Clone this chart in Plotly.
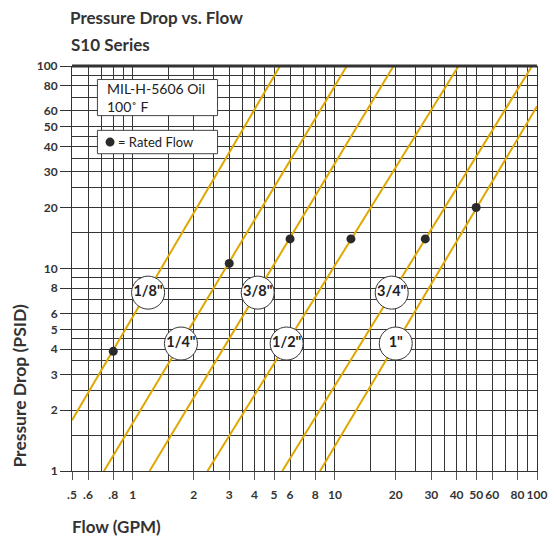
import plotly.graph_objects as go

# ---- data ----
sizes = ['1/8"', '1/4"', '3/8"', '1/2"', '3/4"', '1"']
flow_lo = [0.5, 0.72, 1.21, 2.34, 5.49, 8.44]
dp_lo = [1.78, 1.0, 1.0, 1.0, 1.0, 1.0]
flow_hi = [5.35, 11.45, 19.5, 40.9, 94.5, 100.0]
dp_hi = [100.0, 100.0, 100.0, 100.0, 100.0, 63.2]

rated_flow = [0.8, 3.0, 6.0, 12.0, 28.0, 50.0]
rated_dp = [3.9, 10.6, 14.0, 14.0, 14.0, 20.0]

label_flow = [1.19, 1.73, 4.15, 5.77, 19.1, 20.0]
label_dp = [7.6, 4.26, 7.6, 4.26, 7.6, 4.26]

x_major = [0.5, 0.6, 0.8, 1, 2, 3, 4, 5, 6, 8, 10, 20, 30, 40, 50, 60, 80, 100]
x_major_text = [".5", ".6", ".8", "1", "2", "3", "4", "5", "6", "8", "10",
                "20", "30", "40", "50", "60", "80", "100"]
x_minor = [0.7, 0.9, 1.5, 2.5, 3.5, 4.5, 7, 9, 15, 25, 35, 45, 70, 90]
y_major = [1, 2, 3, 4, 5, 6, 8, 10, 20, 30, 40, 50, 60, 80, 100]
y_major_text = ["1", "2", "3", "4", "5", "6", "8", "10", "20", "30", "40",
                "50", "60", "80", "100"]
y_minor = [1.5, 2.5, 3.5, 4.5, 7, 9, 15, 25, 35, 45, 70, 90]

# ---- styling ----
FONT = "Lato"
TXT = "#333333"
GRID = "#363636"
GOLD = "#DFA700"

fig = go.Figure()

for i, s in enumerate(sizes):
    fig.add_trace(go.Scatter(
        x=[flow_lo[i], flow_hi[i]], y=[dp_lo[i], dp_hi[i]],
        mode="lines", line=dict(color=GOLD, width=2),
        showlegend=False, hoverinfo="skip", cliponaxis=True))

fig.add_trace(go.Scatter(
    x=rated_flow, y=rated_dp, mode="markers",
    marker=dict(color="#2a2a2a", size=9),
    showlegend=False, hoverinfo="skip"))

fig.add_trace(go.Scatter(
    x=label_flow, y=label_dp, mode="markers+text", text=sizes,
    textposition="middle center",
    textfont=dict(family=FONT, size=14.5, color="#222222", weight="bold"),
    marker=dict(color="white", size=33, line=dict(color="#333333", width=1)),
    showlegend=False, hoverinfo="skip", cliponaxis=False))

fig.update_xaxes(
    type="log", range=[-0.30103, 2],
    tickmode="array", tickvals=x_major, ticktext=x_major_text,
    ticks="outside", ticklen=8, tickcolor="#555555", tickwidth=1,
    ticklabelstandoff=5,
    tickfont=dict(family=FONT, size=12, color=TXT, weight="bold"),
    showgrid=True, gridcolor=GRID, gridwidth=1,
    minor=dict(tickmode="array", tickvals=x_minor, showgrid=True,
               gridcolor=GRID, gridwidth=1, ticks=""),
    showline=True, linecolor="#333333", linewidth=1, mirror=False,
    zeroline=False, fixedrange=True)

fig.update_yaxes(
    type="log", range=[0, 2],
    tickmode="array", tickvals=y_major, ticktext=y_major_text,
    ticks="outside", ticklen=11, tickcolor="#333333", tickwidth=1,
    tickfont=dict(family=FONT, size=12, color=TXT, weight="bold"),
    showgrid=True, gridcolor=GRID, gridwidth=1,
    minor=dict(tickmode="array", tickvals=y_minor, showgrid=True,
               gridcolor=GRID, gridwidth=1, ticks=""),
    showline=True, linecolor="#333333", linewidth=1, mirror=True,
    zeroline=False, fixedrange=True)

shapes = [
    # thick top border
    dict(type="line", xref="paper", yref="paper", x0=0, x1=1, y0=1, y1=1,
         line=dict(color="#333333", width=3), layer="above"),
    # legend boxes
    dict(type="rect", xref="paper", yref="paper", x0=0.0547, x1=0.313,
         y0=0.8775, y1=0.9666, fillcolor="white",
         line=dict(color="#444444", width=1), layer="above"),
    dict(type="rect", xref="paper", yref="paper", x0=0.0547, x1=0.313,
         y0=0.7834, y1=0.8411, fillcolor="white",
         line=dict(color="#444444", width=1), layer="above"),
    dict(type="circle", xref="paper", yref="paper", xsizemode="pixel",
         ysizemode="pixel", xanchor=0.0818, yanchor=0.8122,
         x0=-4.5, x1=4.5, y0=-4.5, y1=4.5,
         fillcolor="#2a2a2a", line=dict(color="#2a2a2a", width=0),
         layer="above"),
]

annotations = [
    dict(text="Pressure Drop vs. Flow", xref="paper", yref="paper",
         x=-0.006, y=1.119, xanchor="left", yanchor="middle", showarrow=False,
         borderpad=0,
         font=dict(family=FONT, size=17, color=TXT, weight="bold")),
    dict(text="S10 Series", xref="paper", yref="paper",
         x=-0.006, y=1.052, xanchor="left", yanchor="middle", showarrow=False,
         font=dict(family=FONT, size=17, color=TXT, weight="bold")),
    dict(text="Flow (GPM)", xref="paper", yref="paper",
         x=-0.002, y=-0.138, xanchor="left", yanchor="middle", showarrow=False,
         borderpad=0,
         font=dict(family=FONT, size=17, color=TXT, weight="bold")),
    dict(text="Pressure Drop (PSID)", xref="paper", yref="paper",
         x=-0.1126, y=0.21, xanchor="center", yanchor="middle",
         textangle=-90, showarrow=False,
         font=dict(family=FONT, size=17.5, color=TXT, weight="bold")),
    dict(text="MIL-H-5606 Oil<br>100˚ F", xref="paper", yref="paper",
         x=0.071, y=0.922, xanchor="left", yanchor="middle", align="left",
         showarrow=False,
         font=dict(family=FONT, size=14, color="#222222")),
    dict(text="= Rated Flow", xref="paper", yref="paper",
         x=0.094, y=0.8122, xanchor="left", yanchor="middle", align="left",
         showarrow=False,
         font=dict(family=FONT, size=13, color="#222222")),
]

# the page body adds an 8px offset; margins are shifted to compensate
fig.update_layout(
    width=556, height=536,
    margin=dict(l=64, r=27, t=58, b=73),
    paper_bgcolor="white", plot_bgcolor="white",
    shapes=shapes, annotations=annotations,
    showlegend=False,
)

fig.write_html("out.html")
